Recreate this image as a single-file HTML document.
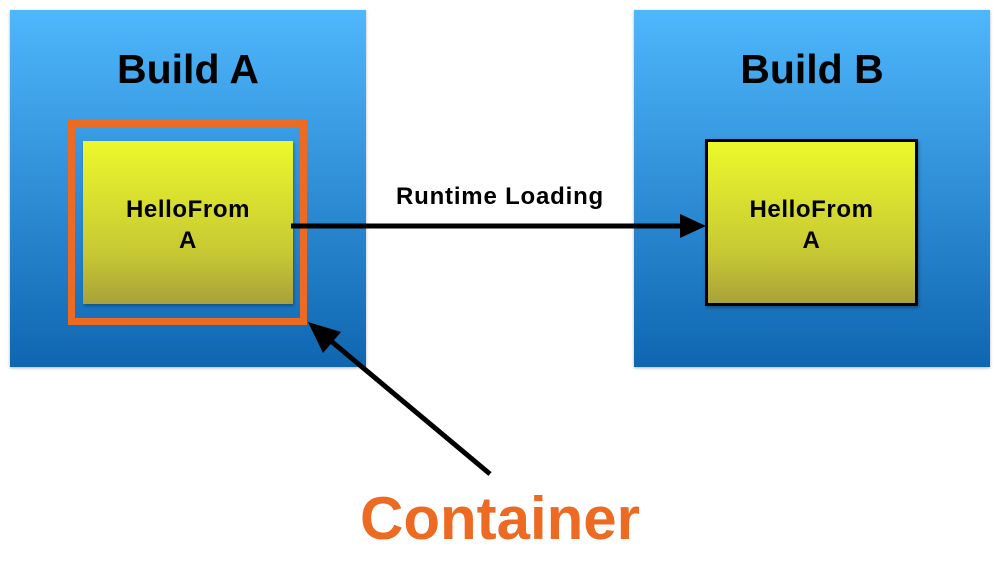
<!DOCTYPE html>
<html><head><style>
body{margin:0;width:997px;height:566px;background:#fff;position:relative;overflow:hidden;font-family:"Liberation Sans",sans-serif;font-weight:bold}
.build{position:absolute;top:10px;width:356px;height:357px;background:linear-gradient(#4fb7fc,#0f66b0);box-shadow:0 1px 3px rgba(0,0,0,.3)}
.title{position:absolute;left:0;right:0;top:36px;text-align:center;font-size:41px;color:#000}
.y{position:absolute;background:linear-gradient(#ecf92c,#c6c733 70%,#a9a13a);text-align:center;font-size:24px;letter-spacing:0.6px;line-height:31px;box-sizing:border-box;padding-top:53px;box-shadow:1px 2px 3px rgba(0,0,0,.3)}
</style></head><body>
<div class="build" style="left:10px"><div class="title">Build A</div></div>
<div class="build" style="left:634px"><div class="title">Build B</div></div>
<div style="position:absolute;left:68px;top:120px;width:239px;height:205px;box-sizing:border-box;border:7px solid #ec6a22"></div>
<div class="y" style="left:83px;top:141px;width:210px;height:163px">HelloFrom<br>A</div>
<div class="y" style="left:705px;top:139px;width:213px;height:167px;border:3px solid #000;padding-top:52px">HelloFrom<br>A</div>
<div style="position:absolute;left:300px;width:400px;top:183px;text-align:center;font-size:24px;letter-spacing:0.8px">Runtime Loading</div>
<svg width="997" height="566" style="position:absolute;left:0;top:0">
<line x1="291" y1="226" x2="684" y2="226" stroke="#000" stroke-width="5"/>
<polygon points="680,214 706,226 680,238" fill="#000"/>
<line x1="490" y1="474" x2="325" y2="336" stroke="#000" stroke-width="5"/>
<polygon points="308,322 341,332 323,353" fill="#000"/>
</svg>
<div style="position:absolute;left:300px;width:400px;top:486px;text-align:center;font-size:60px;line-height:66px;color:#ec6a22">Container</div>
</body></html>
